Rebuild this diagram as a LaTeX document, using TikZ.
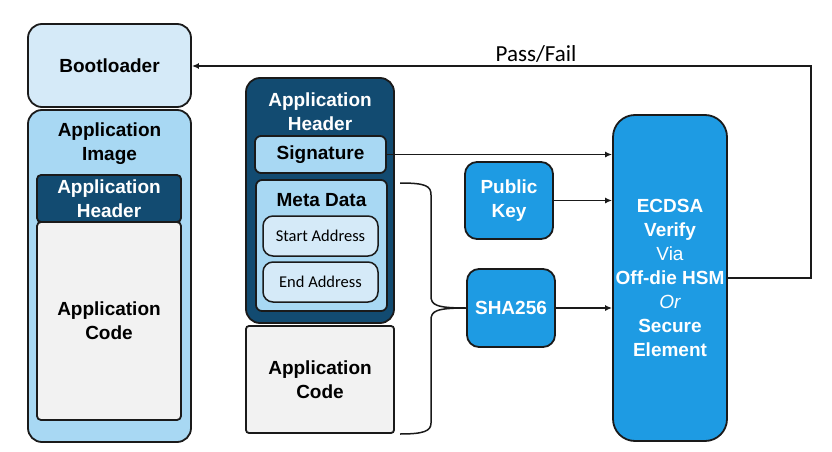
\documentclass[tikz,border=0pt]{standalone}
\usepackage{fontspec}
\setmainfont{Liberation Sans}
\newfontfamily\carlfont{Carlito}
\usetikzlibrary{arrows.meta}
\definecolor{lightbl}{HTML}{D5EAF8}
\definecolor{midbl}{HTML}{A8D8F3}
\definecolor{darkbl}{HTML}{124B71}
\definecolor{brightbl}{HTML}{1E9BE3}
\definecolor{codegray}{HTML}{F2F2F2}
\definecolor{edge}{HTML}{1A1A1A}
\tikzset{
  blk/.style={draw=edge, line width=1.8pt, inner sep=0pt, align=center,
    font=\fontsize{19}{24}\selectfont\bfseries},
  lbl/.style={inner sep=0pt, align=center, font=\fontsize{19}{24}\selectfont\bfseries},
  small/.style={inner sep=0pt, align=center, font=\carlfont\fontsize{16.5}{20}\selectfont},
  arr/.style={draw=edge, line width=1.5pt, -{Latex[length=7pt,width=6pt]}},
}
\begin{document}
\begin{tikzpicture}[x=1pt,y=-1pt]
\useasboundingbox (0,0) rectangle (832,452);
% left column
\node[blk, fill=lightbl, rounded corners=14pt, minimum width=163pt, minimum height=83pt] (boot) at (109.5,65.5) {Bootloader};
\node[blk, fill=midbl, rounded corners=14pt, minimum width=163pt, minimum height=332pt] (appimg) at (109.5,276) {};
\node[lbl] (appimgT) at (109.5,144) {Application\\Image};
\node[blk, fill=darkbl, text=white, rounded corners=4pt, minimum width=144pt, minimum height=47pt] (lhdr) at (109,198.5) {Application\\Header};
\node[blk, fill=codegray, rounded corners=4pt, minimum width=144pt, minimum height=198pt] (lcode) at (109,321) {Application\\Code};
% middle column
\node[blk, fill=darkbl, rounded corners=14pt, minimum width=148pt, minimum height=245pt] (mhdr) at (320,200.5) {};
\node[lbl, text=white] (mhdrT) at (320,112) {Application\\Header};
\node[blk, fill=midbl, rounded corners=6pt, minimum width=131pt, minimum height=37pt] (sig) at (320.5,154.5) {Signature};
\node[blk, fill=midbl, rounded corners=6pt, minimum width=131pt, minimum height=131pt] (meta) at (321.5,245.5) {};
\node[lbl] (metaT) at (321.5,200) {Meta Data};
\node[blk, small, line width=1.5pt, fill=lightbl, rounded corners=10pt, minimum width=115pt, minimum height=40pt] (start) at (320.5,236) {Start Address};
\node[blk, small, line width=1.5pt, fill=lightbl, rounded corners=10pt, minimum width=115pt, minimum height=40pt] (endad) at (320.5,282) {End Address};
\node[blk, fill=codegray, rounded corners=3pt, minimum width=148pt, minimum height=107pt] (mcode) at (320,379.5) {Application\\Code};
% right side
\node[blk, fill=brightbl, text=white, rounded corners=12pt, minimum width=88pt, minimum height=77pt] (pk) at (509,200.5) {Public\\Key};
\node[blk, fill=brightbl, text=white, rounded corners=12pt, minimum width=88pt, minimum height=78pt] (sha) at (511,308) {SHA256};
\node[blk, fill=brightbl, text=white, rounded corners=22pt, minimum width=114pt, minimum height=326pt] (ecdsa) at (670,278) {ECDSA\\Verify\\{\mdseries Via}\\Off-die HSM\\{\mdseries\itshape Or}\\Secure\\Element};
% brace
\coordinate (btop) at (400,183);
\coordinate (bbot) at (400,434);
\draw[edge, line width=1.5pt] (btop) .. controls (426,183) and (431,186) .. (431,195)
  -- (431,296) .. controls (431,305) and (436,308) .. (sha.west)
  .. controls (436,308) and (431,311) .. (431,320)
  -- (431,423) .. controls (431,431) and (424,434) .. (bbot);
% arrows
\draw[arr] (sig.east) -- (sig.east -| ecdsa.west);
\draw[arr] (pk.east) -- (pk.east -| ecdsa.west);
\draw[arr] (sha.east) -- (sha.east -| ecdsa.west);
\coordinate (pfcorner) at (811,66);
\draw[arr] (ecdsa.east) -| (pfcorner) -- (pfcorner -| boot.east);
\node[inner sep=0pt, font=\carlfont\fontsize{23}{26}\selectfont] (pf) at (536,54) {Pass/Fail};
\end{tikzpicture}
\end{document}
